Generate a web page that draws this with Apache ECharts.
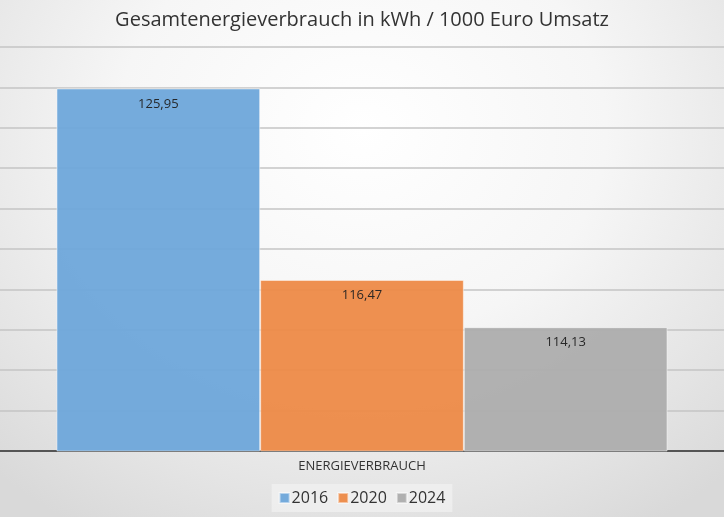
<!DOCTYPE html>
<html><head><meta charset="utf-8">
<script src="https://cdn.jsdelivr.net/npm/echarts@6/dist/echarts.min.js"></script>
<style>
html,body{margin:0;padding:0;}
#c{width:724px;height:517px;background:radial-gradient(ellipse 75% 90% at 50% 25%, #ffffff 0%, #f6f6f6 45%, #e4e4e4 80%, #d9d9d9 100%);}
</style></head>
<body><div id="c"></div>
<script>
const title = 'Gesamtenergieverbrauch in kWh / 1000 Euro Umsatz';
const categories = ['ENERGIEVERBRAUCH'];
const seriesNames = ['2016', '2020', '2024'];
const values2016 = [125.95];
const values2020 = [116.47];
const values2024 = [114.13];
const colors = ['#6ea6da', '#ed8a47', '#adadad'];
const allValues = [values2016, values2020, values2024];

const chart = echarts.init(document.getElementById('c'));
const font = '"Open Sans", sans-serif';
chart.setOption({
  backgroundColor: 'transparent',
  textStyle: {fontFamily: font},
  title: {text: title, left: 'center', top: 5, textStyle: {fontFamily: font, fontSize: 20, fontWeight: 'normal', color: '#333'}},
  legend: {
    bottom: 5, left: 'center', itemWidth: 10, itemHeight: 10, itemGap: 9,
    icon: 'rect', backgroundColor: 'rgba(240,240,240,0.8)', padding: [6, 7],
    textStyle: {fontFamily: font, fontSize: 16, color: '#333', padding: [0,0,0,-3]},
    data: seriesNames
  },
  grid: {left: 0, right: 0, top: 47, bottom: 66, containLabel: false},
  xAxis: {
    type: 'category', data: categories,
    axisLine: {lineStyle: {color: '#555', width: 2}},
    axisTick: {show: false},
    axisLabel: {fontFamily: font, fontSize: 13, color: '#333', margin: 9}
  },
  yAxis: {
    type: 'value', min: 108, max: 128, interval: 2,
    axisLabel: {show: false}, axisLine: {show: false}, axisTick: {show: false},
    splitLine: {lineStyle: {color: '#c4c4c4', width: 1.5}}
  },
  series: seriesNames.map((n, i) => ({
    name: n, type: 'bar', data: allValues[i],
    barGap: '0%', barCategoryGap: '15.6%',
    itemStyle: {color: colors[i], opacity: 0.95, borderColor: 'rgba(255,255,255,0.5)', borderWidth: 1},
    label: {
      show: true, position: 'insideTop', distance: 9,
      fontFamily: font, fontSize: 13, color: '#222',
      formatter: p => p.value.toFixed(2).replace('.', ',')
    }
  }))
});
</script></body></html>
